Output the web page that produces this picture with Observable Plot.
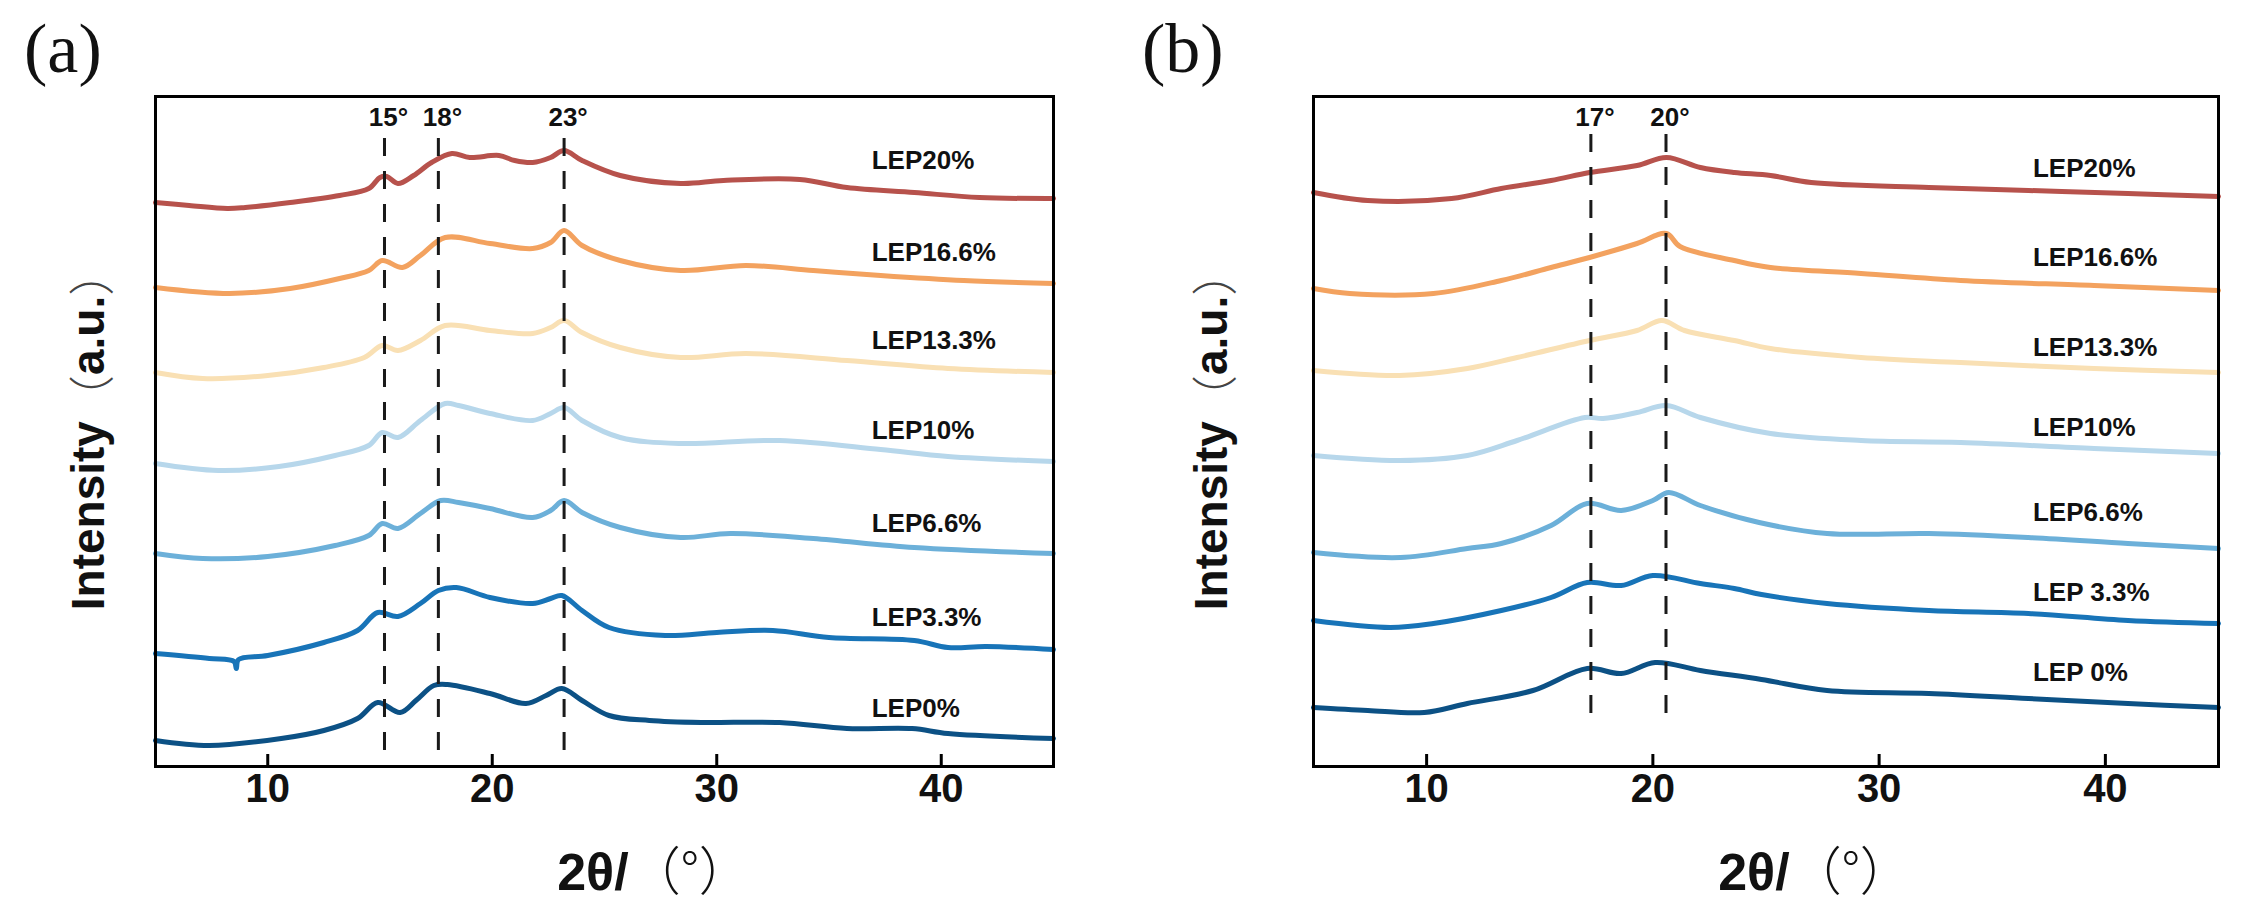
<!DOCTYPE html>
<html>
<head>
<meta charset="utf-8">
<script src="https://cdn.jsdelivr.net/npm/d3@7"></script>
<script src="https://cdn.jsdelivr.net/npm/@observablehq/plot@0.6"></script>
<style>
  body { margin: 0; background: #fff; }
  #wrap { display: flex; width: 2247px; height: 908px; }
  svg { display: block; }
</style>
</head>
<body>
<div id="wrap"><div id="panelA"></div><div id="panelB"></div></div>
<script>
// series, bottom to top
const series = ["LEP0%", "LEP3.3%", "LEP6.6%", "LEP10%", "LEP13.3%", "LEP16.6%", "LEP20%"];
const colors = ["#0c5185", "#1874b8", "#6cb0d9", "#b7d7eb", "#f9e0b4", "#f3a25f", "#b7524c"];
const ticks = [10, 20, 30, 40];

// (a) 2θ, intensity (a.u., curves offset)
const a0 = [[5,26],[7.4,21],[10.6,28],[12.5,36],[14,48],[14.9,64],[15.9,54],[16.6,66],[17.4,81],[18,82],[19.9,73],[21.5,63],[22.4,71],[23.1,78],[24,66],[25.2,51],[27,46],[29.3,44],[32.8,44],[35.8,38],[38.7,38],[40.3,33],[45,28]];
const a1 = [[5,113],[7.4,108],[8.5,105],[8.6,98],[8.7,107],[10,111],[12.5,124],[14,136],[14.9,154],[15.8,150],[16.8,163],[17.6,176],[18.4,179],[19.9,169],[21.8,163],[22.6,168],[23.1,171],[24,156],[25.2,139],[27.7,131],[30,134],[32.5,136],[35,129],[38.8,126],[40.3,119],[42,120],[45,117]];
const a2 = [[5,213],[7.1,208],[10,210],[13,221],[14.5,231],[15.1,243],[15.8,238],[16.8,253],[17.7,266],[18.5,264],[19.9,258],[21.8,249],[22.6,256],[23.2,266],[24,254],[25.7,239],[28.4,229],[30.6,233],[34.3,228],[38.8,219],[45,213]];
const a3 = [[5,303],[7.8,296],[10.5,300],[13,311],[14.5,321],[15.1,334],[15.8,329],[16.8,346],[17.9,363],[18.5,361],[19.9,353],[21.8,346],[22.6,353],[23.2,359],[24,346],[25.7,329],[28.4,323],[32.8,326],[37.3,317],[40.3,310],[45,305]];
const a4 = [[5,394],[7.1,388],[10,391],[12.5,399],[14.3,409],[15.1,421],[15.8,416],[16.8,426],[17.9,441],[19.9,436],[21.8,433],[22.6,439],[23.2,446],[24,434],[25.7,419],[28.4,409],[31.3,413],[35.8,406],[40.3,398],[45,394]];
const a5 = [[5,479],[8.3,473],[11,478],[13.2,488],[14.5,496],[15.1,506],[16,499],[16.8,511],[17.9,529],[19.9,523],[21.8,518],[22.6,524],[23.2,536],[24,521],[25.7,506],[28.4,496],[31.3,501],[34.3,496],[37.3,491],[41,486],[45,483]];
const a6 = [[5,564],[6.5,561],[8.2,558],[9,559],[11,564],[13.2,571],[14.5,578],[15,589],[15.3,590],[15.8,583],[16.5,591],[17.3,604],[18.2,613],[19,609],[20.3,611],[21,606],[21.8,604],[22.6,609],[23.2,616],[24,606],[25.7,591],[28.4,583],[30.3,586],[33.7,587],[35.8,579],[38.8,574],[41.7,569],[45,568]];

// (b)
const b0 = [[5,59],[7.4,56],[9.9,54],[11.8,63],[14.7,76],[17.1,98],[18.6,93],[20.1,104],[22.1,96],[24.8,87],[27.7,76],[32.2,73],[36.6,68],[41,63],[45,59]];
const b1 = [[5,146],[8.4,139],[10.3,143],[13.3,156],[15.5,169],[17.1,184],[18.6,181],[20,191],[22.1,183],[23.6,178],[24.8,172],[27.7,163],[32.2,156],[36.6,153],[41,146],[45,143]];
const b2 = [[5,214],[8.85,209],[11.8,218],[13.3,223],[15.5,241],[17.1,263],[18.6,256],[20,266],[20.7,274],[22.1,261],[24.7,244],[27.7,233],[32.2,233],[36.6,229],[41,223],[45,218]];
const b3 = [[5,311],[8.8,306],[11.8,311],[14,326],[17,349],[17.8,348],[19.3,354],[20.6,361],[22.1,349],[25.2,333],[29.2,326],[33.6,324],[39.5,318],[45,313]];
const b4 = [[5,396],[8.8,391],[11.8,398],[14,409],[17.2,426],[19.3,436],[20.4,446],[21.4,436],[23.6,426],[25.2,418],[29.2,409],[33.6,404],[39.5,398],[45,394]];
const b5 = [[5,478],[6.6,473],[10.3,473],[13.3,486],[15.5,499],[17.2,509],[19.3,523],[20.6,533],[21.2,520],[23.6,506],[25.2,499],[29.2,493],[33.6,486],[39.5,481],[45,476]];
const b6 = [[5,574],[7.4,566],[11.1,568],[13.3,578],[15.5,586],[17.2,594],[19.3,601],[20.6,609],[22.1,599],[23.6,594],[25.2,591],[27,584],[32.2,579],[36.6,576],[41,573],[45,570]];

// curve labels
const labelsA = ["LEP0%", "LEP3.3%", "LEP6.6%", "LEP10%", "LEP13.3%", "LEP16.6%", "LEP20%"];
const labelsB = ["LEP 0%", "LEP 3.3%", "LEP6.6%", "LEP10%", "LEP13.3%", "LEP16.6%", "LEP20%"];
const labelYA = [58, 149, 243, 336, 426, 514, 606];
const labelYB = [94, 174, 254, 339, 419, 509, 598];

// dashed peak markers
const peaksA = [15.2, 17.6, 23.2];
const peakNamesA = ["15°", "18°", "23°"];
const peaksB = [17.26, 20.58];
const peakNamesB = ["17°", "20°"];

const font = "Liberation Sans, Arial, Helvetica, sans-serif";

function panel(cfg) {
  const rows = cfg.curves.flatMap((pts, i) => pts.map(([x, v]) => ({x, v, s: series[i]})));
  const labelRows = cfg.labels.map((t, i) => ({t, y: cfg.labelY[i]}));
  const peakRows = cfg.peaks.map((x, i) => ({x, t: cfg.peakNames[i]}));

  const chart = Plot.plot({
    width: cfg.width,
    height: 908,
    marginLeft: cfg.ml, marginRight: cfg.mr, marginTop: 96, marginBottom: 142,
    style: {fontFamily: font, background: "#fff", overflow: "visible"},
    x: {domain: [5, 45], axis: null},
    y: {domain: [0, 670], axis: null},
    color: {domain: series, range: colors},
    marks: [
      Plot.line(rows, {x: "x", y: "v", z: "s", stroke: "s", strokeWidth: 5, curve: "catmull-rom"}),
      Plot.ruleX(peakRows, {x: "x", y1: cfg.dash[0], y2: cfg.dash[1], stroke: "#1a1a1a", strokeWidth: 3, strokeDasharray: "18,15"}),
      Plot.text(peakRows, {x: "x", y: 649, dx: 4, text: "t", fontSize: 26, fontWeight: "bold", fill: "#111"}),
      Plot.text(labelRows, {x: cfg.labelX, y: "y", text: "t", textAnchor: "start", fontSize: 26, fontWeight: "bold", fill: "#111"}),
      Plot.ruleX(ticks, {y1: 0, y2: 12, stroke: "black", strokeWidth: 3}),
      Plot.text(ticks, {x: d => d, frameAnchor: "bottom", dy: 35, text: d => String(d), fontSize: 40, fontWeight: "bold", fill: "#111"}),
      Plot.frame({stroke: "black", strokeWidth: 3})
    ]
  });

  const svg = d3.select(chart);

  svg.append("text")
    .attr("x", cfg.letterX).attr("y", 72)
    .attr("text-anchor", "start")
    .attr("font-family", "Liberation Serif, Times New Roman, serif")
    .attr("font-size", 70)
    .attr("fill", "#111")
    .text(cfg.letter);

  const yl = svg.append("text")
    .attr("transform", "translate(88,430) rotate(-90)")
    .attr("text-anchor", "middle")
    .attr("dominant-baseline", "central")
    .attr("font-size", 46)
    .attr("fill", "#111");
  yl.append("tspan").attr("font-weight", "bold").text("Intensity");
  yl.append("tspan").attr("font-family", "Noto Sans CJK SC").attr("font-weight", "300").attr("fill", "#444").text("（");
  yl.append("tspan").attr("font-weight", "bold").text("a.u.");
  yl.append("tspan").attr("font-family", "Noto Sans CJK SC").attr("font-weight", "300").attr("fill", "#444").text("）");

  const xl = svg.append("text")
    .attr("x", cfg.titleX).attr("y", 890)
    .attr("text-anchor", "middle")
    .attr("font-size", 52)
    .attr("fill", "#111");
  xl.append("tspan").attr("font-weight", "bold").text("2θ/");
  xl.append("tspan").attr("font-family", "Noto Sans CJK SC").attr("font-weight", "300").text("（°）");

  d3.select(cfg.el).append(() => chart);
}

panel({
  el: "#panelA", width: 1123, ml: 155, mr: 70,
  curves: [a0, a1, a2, a3, a4, a5, a6],
  labels: labelsA, labelY: labelYA, labelX: 36.9,
  peaks: peaksA, peakNames: peakNamesA, dash: [16, 638],
  letter: "(a)", letterX: 24, titleX: 654
});

panel({
  el: "#panelB", width: 1124, ml: 190, mr: 29,
  curves: [b0, b1, b2, b3, b4, b5, b6],
  labels: labelsB, labelY: labelYB, labelX: 36.8,
  peaks: peaksB, peakNames: peakNamesB, dash: [53, 636],
  letter: "(b)", letterX: 19, titleX: 692
});
</script>
</body>
</html>
